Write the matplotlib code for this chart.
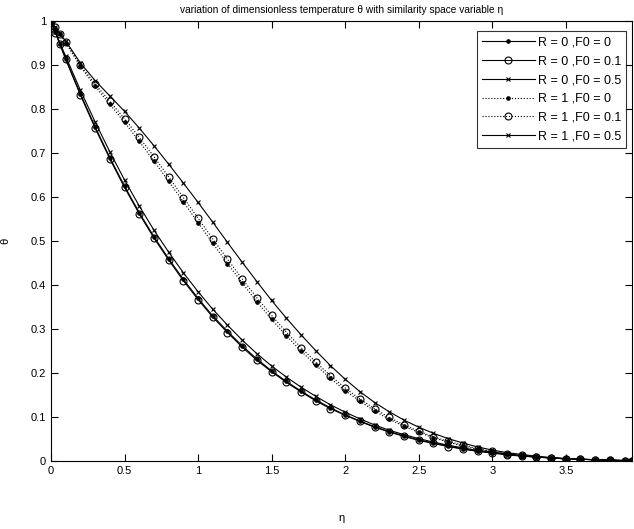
import numpy as np
import matplotlib
matplotlib.use("Agg")
import matplotlib.pyplot as plt

eta = [0, 0.03, 0.06, 0.1, 0.2, 0.3, 0.4, 0.5, 0.6, 0.7, 0.8, 0.9,
       1.0, 1.1, 1.2, 1.3, 1.4, 1.5, 1.6, 1.7, 1.8, 1.9,
       2.0, 2.1, 2.2, 2.3, 2.4, 2.5, 2.6, 2.7, 2.8, 2.9,
       3.0, 3.1, 3.2, 3.3, 3.4, 3.5, 3.6, 3.7, 3.8, 3.9, 3.95]

theta_r0_f0 = [1.0, 0.975, 0.949, 0.915, 0.835, 0.76, 0.69, 0.625, 0.565, 0.51, 0.46, 0.413,
               0.37, 0.33, 0.295, 0.262, 0.232, 0.205, 0.181, 0.159, 0.139, 0.121,
               0.105, 0.091, 0.078, 0.067, 0.057, 0.048, 0.041, 0.034, 0.028, 0.023,
               0.019, 0.015, 0.012, 0.009, 0.007, 0.005, 0.004, 0.003, 0.002, 0.001, 0.0]
theta_r0_f01 = [1.0, 0.974, 0.948, 0.913, 0.832, 0.757, 0.687, 0.622, 0.562, 0.507, 0.457, 0.41,
                0.367, 0.327, 0.292, 0.259, 0.229, 0.203, 0.179, 0.157, 0.137, 0.119,
                0.104, 0.09, 0.077, 0.066, 0.056, 0.047, 0.04, 0.033, 0.027, 0.022,
                0.018, 0.014, 0.011, 0.009, 0.007, 0.005, 0.004, 0.003, 0.002, 0.001, 0.0]
theta_r0_f05 = [1.0, 0.976, 0.951, 0.92, 0.843, 0.771, 0.703, 0.639, 0.58, 0.525, 0.475, 0.428,
                0.385, 0.345, 0.309, 0.275, 0.244, 0.216, 0.191, 0.168, 0.147, 0.128,
                0.111, 0.096, 0.082, 0.07, 0.06, 0.051, 0.043, 0.036, 0.03, 0.024,
                0.02, 0.016, 0.012, 0.009, 0.007, 0.005, 0.004, 0.003, 0.002, 0.001, 0.0]
theta_r1_f0 = [1.0, 0.985, 0.97, 0.951, 0.897, 0.852, 0.811, 0.77, 0.727, 0.682, 0.636, 0.589,
               0.542, 0.495, 0.449, 0.405, 0.362, 0.322, 0.285, 0.25, 0.218, 0.188,
               0.16, 0.136, 0.114, 0.095, 0.079, 0.065, 0.053, 0.043, 0.034, 0.027,
               0.021, 0.016, 0.012, 0.009, 0.007, 0.005, 0.004, 0.003, 0.002, 0.001, 0.0]
theta_r1_f01 = [1.0, 0.986, 0.971, 0.953, 0.9, 0.857, 0.818, 0.778, 0.736, 0.692, 0.646, 0.599,
                0.552, 0.505, 0.459, 0.414, 0.371, 0.331, 0.293, 0.258, 0.225, 0.194,
                0.166, 0.141, 0.119, 0.099, 0.082, 0.068, 0.055, 0.045, 0.036, 0.028,
                0.022, 0.017, 0.013, 0.01, 0.007, 0.005, 0.004, 0.003, 0.002, 0.001, 0.0]
theta_r1_f05 = [1.0, 0.986, 0.972, 0.955, 0.905, 0.865, 0.83, 0.795, 0.757, 0.717, 0.675, 0.632,
                0.588, 0.543, 0.497, 0.452, 0.408, 0.365, 0.325, 0.287, 0.251, 0.217,
                0.186, 0.158, 0.133, 0.112, 0.093, 0.077, 0.063, 0.051, 0.041, 0.032,
                0.025, 0.019, 0.015, 0.011, 0.008, 0.006, 0.004, 0.003, 0.002, 0.001, 0.0]

labels = ["R = 0 ,F0 = 0", "R = 0 ,F0 = 0.1", "R = 0 ,F0 = 0.5",
          "R = 1 ,F0 = 0", "R = 1 ,F0 = 0.1", "R = 1 ,F0 = 0.5"]
series = [theta_r0_f0, theta_r0_f01, theta_r0_f05, theta_r1_f0, theta_r1_f01, theta_r1_f05]
styles = [("-", "."), ("-", "o"), ("-", "x"), (":", "."), (":", "o"), ("-", "x")]

plt.rcParams["font.family"] = ["Liberation Sans", "DejaVu Sans"]
plt.rcParams["font.size"] = 8

fig = plt.figure(figsize=(6.34, 5.29), dpi=100)
ax = fig.add_axes([0.0804, 0.1285, 0.9164, 0.8315])

for y, lab, (ls, mk) in zip(series, labels, styles):
    ms = {".": 5, "o": 5, "x": 3.5}[mk]
    ax.plot(eta, y, color="black", linestyle=ls, linewidth=0.8, marker=mk,
            markersize=ms, markerfacecolor="none" if mk == "o" else "black",
            markeredgewidth=0.8, label=lab)

ax.set_xlim(0, 3.95)
ax.set_ylim(0, 1)
ax.set_xticks(np.arange(0, 4, 0.5))
ax.set_xticklabels(["0", "0.5", "1", "1.5", "2", "2.5", "3", "3.5"])
ax.set_yticks(np.arange(0, 1.01, 0.1))
ax.set_yticklabels(["0", "0.1", "0.2", "0.3", "0.4", "0.5", "0.6", "0.7", "0.8", "0.9", "1"])
ax.tick_params(direction="in", top=True, right=True, length=5, width=0.8, labelsize=8)
for s in ax.spines.values():
    s.set_linewidth(0.8)
ax.set_xlabel("η", fontsize=8, labelpad=27)
ax.set_ylabel("θ", fontsize=8, labelpad=15)
ax.set_title("variation of dimensionless temperature θ with similarity space variable η",
             fontsize=7.3, pad=6)

leg = ax.legend(loc="upper right", bbox_to_anchor=(0.99, 0.977), borderaxespad=0,
                fontsize=9, frameon=True, fancybox=False, edgecolor="black",
                handlelength=4.2, labelspacing=0.55, borderpad=0.4, handletextpad=0.25)
leg.get_frame().set_linewidth(0.8)

fig.savefig("out.png", dpi=100)
